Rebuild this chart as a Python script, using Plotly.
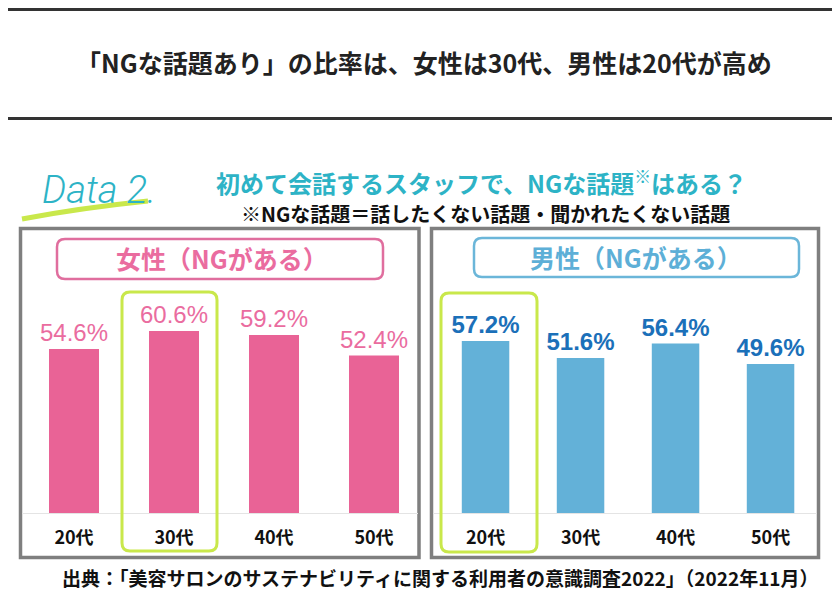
import plotly.graph_objects as go

# ---- data ----
age_groups = ["20代", "30代", "40代", "50代"]
female_ng = [54.6, 60.6, 59.2, 52.4]
male_ng = [57.2, 51.6, 56.4, 49.6]

title_text = "「NGな話題あり」の比率は、女性は30代、男性は20代が高め"
question_text = "初めて会話するスタッフで、NGな話題<sup>※</sup>はある？"
note_text = "※NGな話題＝話したくない話題・聞かれたくない話題"
female_label = "女性（NGがある）"
male_label = "男性（NGがある）"
source_text = "出典：「美容サロンのサステナビリティに関する利用者の意識調査2022」（2022年11月）"

# ---- styling ----
W, H = 832, 592
PINK_BAR = "#E96396"
PINK_TXT = "#EA6C9F"
BLUE_BAR = "#63B1D8"
BLUE_TXT = "#1B70B9"
BLUE_LBL = "#5DAFD7"
TEAL = "#2DB3C6"
LIME = "#C9E84B"
GRAY = "#7F7F7F"
JP = "Noto Sans CJK JP"
LAT = "Liberation Sans"


def X(x):
    return x / W


def Y(y):
    return 1 - y / H


def rrect(x0, y0, x1, y1, r):
    return (f"M {X(x0+r)},{Y(y0)} L {X(x1-r)},{Y(y0)} Q {X(x1)},{Y(y0)} {X(x1)},{Y(y0+r)} "
            f"L {X(x1)},{Y(y1-r)} Q {X(x1)},{Y(y1)} {X(x1-r)},{Y(y1)} "
            f"L {X(x0+r)},{Y(y1)} Q {X(x0)},{Y(y1)} {X(x0)},{Y(y1-r)} "
            f"L {X(x0)},{Y(y0+r)} Q {X(x0)},{Y(y0)} {X(x0+r)},{Y(y0)} Z")


fig = go.Figure()
fig.add_trace(go.Bar(
    x=age_groups, y=female_ng, xaxis="x", yaxis="y", width=0.5,
    marker=dict(color=PINK_BAR, line=dict(width=0)),
    text=[f"{v:.1f}%" for v in female_ng], textposition="outside",
    textfont=dict(family=LAT, size=24, color=PINK_TXT),
    constraintext="none", cliponaxis=False, hoverinfo="skip", showlegend=False))
fig.add_trace(go.Bar(
    x=age_groups, y=male_ng, xaxis="x2", yaxis="y2", width=0.5,
    marker=dict(color=BLUE_BAR, line=dict(width=0)),
    text=[f"{v:.1f}%" for v in male_ng], textposition="outside",
    textfont=dict(family=LAT, size=24, color=BLUE_TXT, weight="bold"),
    constraintext="none", cliponaxis=False, hoverinfo="skip", showlegend=False))

ymax = (513 - 290) / 3.005
xcommon = dict(showline=True, linecolor="#E4E4E4", linewidth=1, ticks="",
               showgrid=False, zeroline=False, fixedrange=True,
               tickfont=dict(family=JP, size=18, color="#111111", weight="bold"),
               ticklabelstandoff=8)
ycommon = dict(visible=False, range=[0, ymax], domain=[Y(513), Y(290)], fixedrange=True)

fig.update_layout(
    width=W, height=H, margin=dict(l=0, r=0, t=0, b=0),
    paper_bgcolor="white", plot_bgcolor="white",
    xaxis=dict(domain=[X(22), X(418)], range=[-0.52, 3.44], anchor="y", **xcommon),
    yaxis=dict(anchor="x", **ycommon),
    xaxis2=dict(domain=[X(433), X(817)], range=[-0.553, 3.489], anchor="y2", **xcommon),
    yaxis2=dict(anchor="x2", **ycommon),
)

shapes = []
# top/bottom rules
shapes.append(dict(type="line", xref="paper", yref="paper", x0=X(8), x1=X(832), y0=Y(9.5), y1=Y(9.5),
                   line=dict(color="#333333", width=3)))
shapes.append(dict(type="line", xref="paper", yref="paper", x0=X(8), x1=X(832), y0=Y(118.5), y1=Y(118.5),
                   line=dict(color="#333333", width=3)))
# panel frames
shapes.append(dict(type="rect", xref="paper", yref="paper", x0=X(20.5), x1=X(419), y0=Y(228.5), y1=Y(557.5),
                   line=dict(color=GRAY, width=3.5), layer="below"))
shapes.append(dict(type="rect", xref="paper", yref="paper", x0=X(431.5), x1=X(818.5), y0=Y(228.5), y1=Y(557.5),
                   line=dict(color=GRAY, width=3.5), layer="below"))
# label boxes
shapes.append(dict(type="path", xref="paper", yref="paper", path=rrect(57, 239, 383, 279, 8),
                   line=dict(color="#E06E9E", width=2.5)))
shapes.append(dict(type="path", xref="paper", yref="paper", path=rrect(474, 238, 799, 277, 8),
                   line=dict(color="#6BB6D9", width=2.5)))
# highlight boxes
shapes.append(dict(type="path", xref="paper", yref="paper", path=rrect(122, 292, 217, 551, 8),
                   line=dict(color=LIME, width=3)))
shapes.append(dict(type="path", xref="paper", yref="paper", path=rrect(441, 293, 537, 552, 8),
                   line=dict(color=LIME, width=3)))
# Data 2 underline stroke
shapes.append(dict(type="path", xref="paper", yref="paper",
                   path=f"M {X(22)},{Y(219)} Q {X(80)},{Y(208)} {X(148)},{Y(201)}",
                   line=dict(color=LIME, width=5)))
fig.update_layout(shapes=shapes)

ann = []
ann.append(dict(text=title_text, x=X(424), y=Y(62), xref="paper", yref="paper", showarrow=False,
                xanchor="center", yanchor="middle",
                font=dict(family=JP, size=25, color="#222222", weight="bold")))
ann.append(dict(text="Data 2.", x=X(40), y=Y(190), xref="paper", yref="paper", showarrow=False,
                xanchor="left", yanchor="middle",
                font=dict(family="Roboto", size=38, color=TEAL, style="italic", weight=300)))
ann.append(dict(text=question_text, x=X(481), y=Y(182), xref="paper", yref="paper", showarrow=False,
                xanchor="center", yanchor="middle",
                font=dict(family=JP, size=24, color=TEAL, weight="bold")))
ann.append(dict(text=note_text, x=X(485), y=Y(213), xref="paper", yref="paper", showarrow=False,
                xanchor="center", yanchor="middle",
                font=dict(family=JP, size=20, color="#111111", weight="bold")))
ann.append(dict(text=female_label, x=X(222), y=Y(258), xref="paper", yref="paper", showarrow=False,
                xanchor="center", yanchor="middle",
                font=dict(family=JP, size=25, color=PINK_TXT, weight="bold")))
ann.append(dict(text=male_label, x=X(636), y=Y(257), xref="paper", yref="paper", showarrow=False,
                xanchor="center", yanchor="middle",
                font=dict(family=JP, size=25, color=BLUE_LBL, weight="bold")))
ann.append(dict(text=source_text, x=X(440), y=Y(577), xref="paper", yref="paper", showarrow=False,
                xanchor="center", yanchor="middle",
                font=dict(family=JP, size=19, color="#111111", weight="bold")))
fig.update_layout(annotations=ann)

fig.write_html("out.html", config={"displayModeBar": False},
               post_script="document.body.style.margin='0px';")
